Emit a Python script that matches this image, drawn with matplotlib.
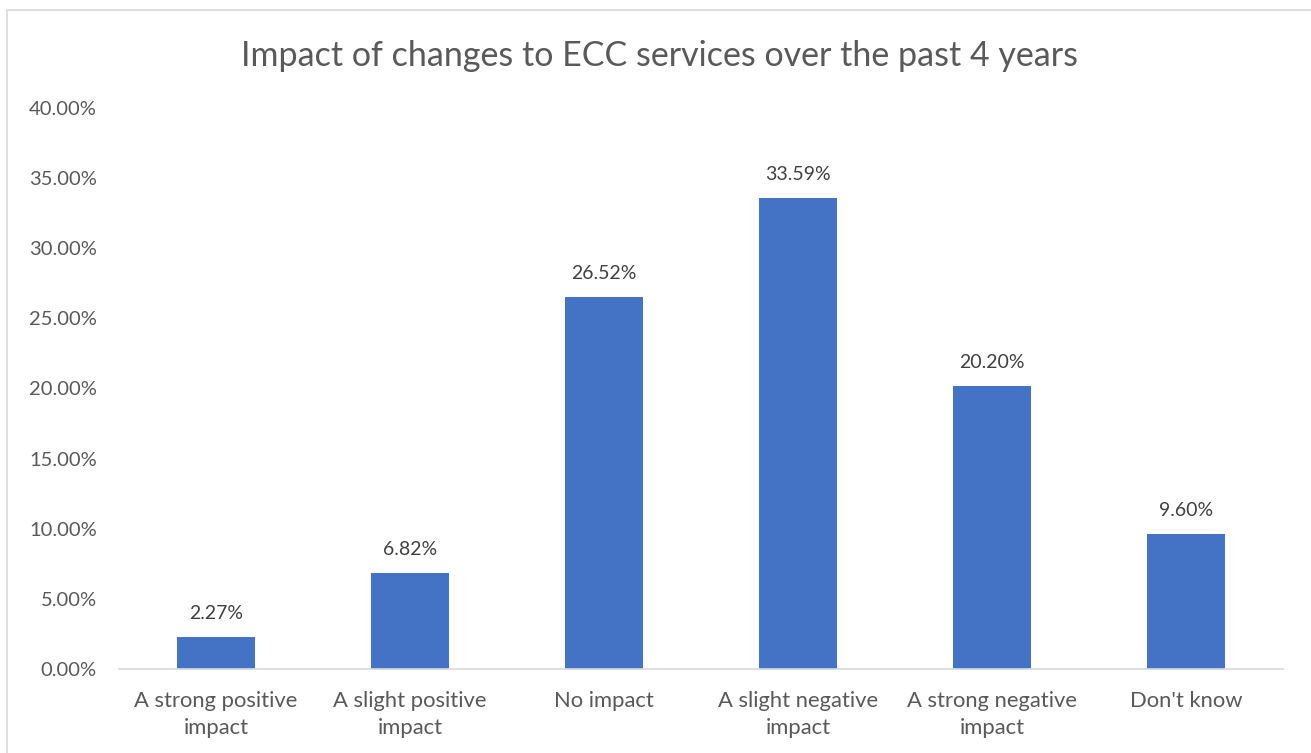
import matplotlib.pyplot as plt
from matplotlib.patches import Rectangle
from matplotlib.ticker import FuncFormatter, MultipleLocator

categories = ["A strong positive\nimpact", "A slight positive\nimpact", "No impact",
              "A slight negative\nimpact", "A strong negative\nimpact", "Don't know"]
shares = [2.27, 6.82, 26.52, 33.59, 20.20, 9.60]

plt.rcParams['font.family'] = ['Lato', 'DejaVu Sans']

fig = plt.figure(figsize=(13.11, 7.53), dpi=100)
ax = fig.add_axes([0.0908, 0.1116, 0.8878, 0.745])

x = range(len(categories))
bars = ax.bar(x, shares, width=0.4, color='#4472C4')

# value labels above each bar
for b, v in zip(bars, shares):
    ax.annotate("{:.2f}%".format(v), (b.get_x() + b.get_width() / 2, v),
                xytext=(0, 13), textcoords='offset points', ha='center', va='baseline',
                fontsize=14, color='#404040')

ax.set_xlim(-0.5, len(categories) - 0.5)
ax.set_ylim(0, 40)
ax.yaxis.set_major_locator(MultipleLocator(5))
ax.yaxis.set_major_formatter(FuncFormatter(lambda v, p: "{:.2f}%".format(v)))
ax.set_xticks(list(x))
ax.set_xticklabels(categories, fontsize=15.8, color='#595959', linespacing=1.45)
ax.tick_params(axis='y', labelsize=14.5, labelcolor='#595959', length=0, pad=16)
ax.tick_params(axis='x', length=0, pad=16)

for s in ['top', 'right', 'left']:
    ax.spines[s].set_visible(False)
ax.spines['bottom'].set_color('#d9d9d9')
ax.spines['bottom'].set_linewidth(1.2)

fig.text(0.503, 0.926, "Impact of changes to ECC services over the past 4 years",
         ha='center', va='center', fontsize=24.5, color='#595959')

# chart frame
fig.patches.append(Rectangle((7 / 1311, -0.1), 1.2, 1.1 - 10 / 753,
                             transform=fig.transFigure, fill=False,
                             edgecolor='#d9d9d9', linewidth=1.2))

fig.savefig("out.png", dpi=100)
